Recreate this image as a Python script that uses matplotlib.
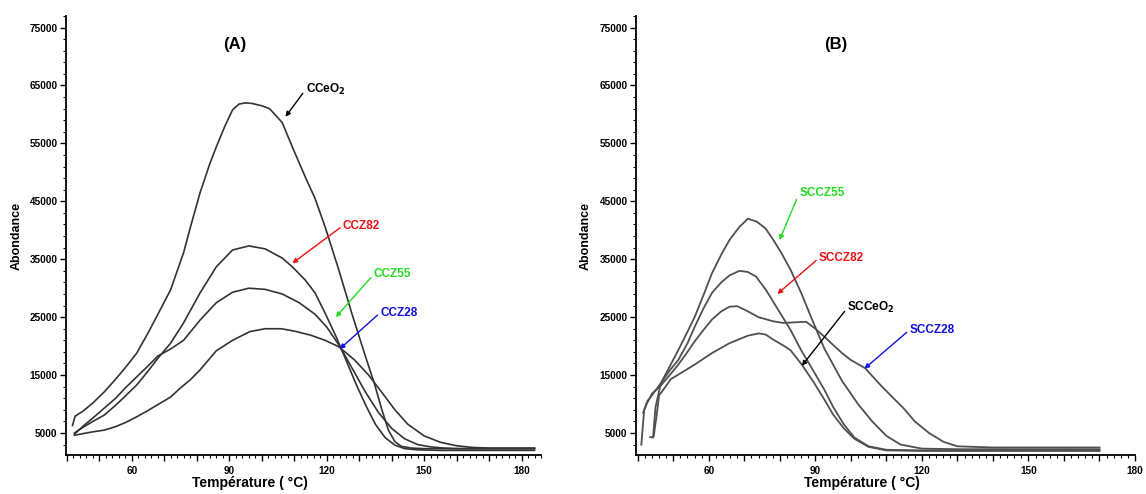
import numpy as np
import matplotlib
matplotlib.use("Agg")
import matplotlib.pyplot as plt
from matplotlib.ticker import MultipleLocator, FuncFormatter, FixedLocator

plt.rcParams['font.family'] = ['Liberation Sans', 'DejaVu Sans']

# ---------------- Panel A data ----------------
CCeO2_T = [41.7, 42.5, 45, 48, 51.5, 55, 58, 61.5, 65, 68, 71.9, 75.9, 78, 81, 84, 86, 88.5,
           91, 93, 95, 97, 100, 102.4, 106.3, 109.4, 113.4, 116.4, 119.5, 123.7, 127.7,
           131.6, 134.7, 137, 139, 141, 143, 146, 150, 160, 170, 184]
CCeO2_V = [6300, 7900, 8800, 10200, 12100, 14300, 16300, 18800, 22300, 25500, 29700, 36100,
           40500, 46500, 51500, 54400, 57800, 60800, 61800, 62000, 61900, 61500, 61000, 58600,
           54400, 49200, 45500, 40600, 33200, 25700, 18800, 13500, 9000, 5500, 3500, 2700,
           2400, 2300, 2300, 2300, 2300]

CCZ82_T = [42.3, 45, 48, 51.5, 55, 58, 61.5, 65, 68, 71.9, 75.9, 81, 86, 91, 96, 101, 106.3,
           109.4, 113.4, 116.4, 119.5, 123, 126, 129, 132, 135, 138, 141, 144, 148, 155, 184]
CCZ82_V = [5000, 6000, 7000, 8100, 9800, 11400, 13300, 15700, 17900, 20500, 24000, 29200,
           33700, 36600, 37300, 36800, 35200, 33700, 31400, 29200, 25700, 21500, 17500, 13500,
           9800, 6500, 4200, 2900, 2300, 2100, 2000, 2000]

CCZ55_T = [42.3, 45, 48, 51.5, 55, 58, 61.5, 65, 68, 71.9, 75.9, 81, 86, 91, 96, 101, 106.3,
           111.5, 116.4, 120, 124, 128, 132, 136, 140, 144, 148, 152, 156, 160, 184]
CCZ55_V = [4800, 6200, 7600, 9300, 11000, 12800, 14700, 16600, 18300, 19500, 21000, 24500,
           27500, 29300, 30000, 29800, 29000, 27500, 25500, 23300, 20000, 16000, 12000, 8500,
           5800, 4000, 3000, 2600, 2400, 2300, 2300]

CCZ28_T = [42.3, 45, 48, 51.5, 55, 58, 61.5, 65, 68, 71.9, 75, 78, 81, 86, 91, 96.3, 101, 106,
           110, 115, 119.5, 123.7, 128.6, 132.9, 137, 141, 145, 150, 155, 160, 165, 170, 184]
CCZ28_V = [4600, 4900, 5200, 5500, 6100, 6800, 7800, 8900, 9900, 11200, 12800, 14200, 15900,
           19200, 21000, 22500, 23000, 23000, 22600, 21900, 21000, 19900, 17600, 15000, 12000,
           9000, 6500, 4500, 3400, 2800, 2500, 2400, 2400]

# ---------------- Panel B data ----------------
SCCeO2_T = [44.5, 45.3, 46, 47, 49.3, 52, 56, 60.9, 65.8, 71, 74, 76, 78.2, 81, 83, 86.2,
            89.7, 92.6, 95, 98, 101, 105, 110, 120, 130, 150, 170]
SCCeO2_V = [4500, 8000, 11500, 12300, 14300, 15300, 16800, 18800, 20500, 21800, 22200, 22000,
            21100, 20100, 19300, 16800, 13600, 10700, 8200, 5800, 4000, 2600, 2000, 1900,
            1900, 1900, 1900]

SCCZ55_T = [41, 41.8, 42.7, 44, 46.5, 49, 51.4, 54, 56, 58.5, 60.9, 63.5, 65.8, 68.5, 71,
            73.5, 76, 78.2, 80.5, 83, 86, 88.8, 92.6, 97.5, 102, 106, 110, 114, 120, 130,
            150, 170]
SCCZ55_V = [3000, 9000, 10500, 11500, 13600, 16500, 19300, 22500, 25000, 28800, 32600, 35800,
            38300, 40500, 42000, 41500, 40300, 38300, 36000, 33200, 29200, 25000, 19500,
            14000, 10000, 7000, 4500, 3000, 2300, 2200, 2200, 2200]

SCCZ82_T = [43.5, 44.3, 45, 46.5, 49, 51.4, 54, 56, 58.5, 60.9, 63.5, 65.8, 68.6, 71, 73.3,
            76.1, 79, 83, 86, 88.8, 92.6, 95, 98, 101, 105, 110, 120, 150, 170]
SCCZ82_V = [4300, 4200, 9500, 13600, 15800, 17600, 20500, 23300, 26500, 29200, 31000, 32200,
            33000, 32800, 32000, 29700, 26800, 22800, 19300, 16400, 12400, 9500, 6500, 4200,
            2700, 2100, 2000, 2000, 2000]

SCCZ28_T = [41.5, 42.5, 44, 46.5, 49, 51.4, 54, 56, 58.5, 60.9, 63.5, 65.8, 68, 71, 74, 78,
            81, 84, 87.4, 90, 92.6, 95, 97.5, 100, 104, 108, 112, 114.8, 118, 122, 126, 130,
            140, 150, 170]
SCCZ28_V = [8500, 10000, 11800, 13200, 15000, 16800, 19000, 20800, 22800, 24600, 26000, 26800,
            26900, 26000, 25000, 24300, 24000, 24100, 24200, 23000, 21600, 20200, 18800,
            17600, 16200, 13500, 11000, 9300, 7000, 5000, 3500, 2700, 2500, 2500, 2500]

y_major = [5000, 15000, 25000, 35000, 45000, 55000, 65000, 75000]
x_labels = [60, 90, 120, 150, 180]

LINE_A = '#333333'
LINE_B = '#505050'

fig = plt.figure(figsize=(11.46, 4.94), dpi=100)
axA = fig.add_axes([66/1146, 1-455/494, 475/1146, 439/494])
axB = fig.add_axes([636/1146, 1-455/494, 499/1146, 439/494])


def style(ax, xlim):
    ax.set_xlim(*xlim)
    ax.set_ylim(1200, 77000)
    for s in ('top', 'right'):
        ax.spines[s].set_visible(False)
    for s in ('left', 'bottom'):
        ax.spines[s].set_linewidth(1.3)
    ax.yaxis.set_major_locator(FixedLocator(y_major))
    ax.yaxis.set_minor_locator(FixedLocator(np.arange(1000, 77001, 2000)))
    ax.xaxis.set_major_locator(MultipleLocator(10))
    ax.xaxis.set_minor_locator(MultipleLocator(2))
    ax.xaxis.set_major_formatter(FuncFormatter(
        lambda v, p: f"{int(round(v))}" if int(round(v)) in x_labels else ""))
    ax.tick_params(axis='both', which='major', direction='out', length=4, width=1,
                   labelsize=7.2, pad=2)
    ax.tick_params(axis='x', which='major', pad=4)
    ax.tick_params(axis='both', which='minor', direction='out', length=2, width=0.8)
    for lab in ax.get_xticklabels() + ax.get_yticklabels():
        lab.set_fontweight('bold')
    ax.set_ylabel('Abondance', fontsize=9, fontweight='bold')
    ax.set_xlabel('Température ( °C)', fontsize=10, fontweight='bold')


style(axA, (39.7, 186))
style(axB, (39.5, 180))
axA.xaxis.set_label_coords((250-66)/475, -0.048)
axB.xaxis.set_label_coords((862-636)/499, -0.048)
axA.yaxis.set_label_coords(-0.092, 0.5)
axB.yaxis.set_label_coords(-0.088, 0.5)

for T, V in [(CCeO2_T, CCeO2_V), (CCZ82_T, CCZ82_V), (CCZ55_T, CCZ55_V), (CCZ28_T, CCZ28_V)]:
    axA.plot(T, V, color=LINE_A, lw=1.2)
for T, V in [(SCCeO2_T, SCCeO2_V), (SCCZ55_T, SCCZ55_V), (SCCZ82_T, SCCZ82_V), (SCCZ28_T, SCCZ28_V)]:
    axB.plot(T, V, color=LINE_B, lw=1.3)

axA.text(0.356, 0.934, '(A)', transform=axA.transAxes, ha='center', va='center',
         fontsize=12, fontweight='bold')
axB.text(0.40, 0.934, '(B)', transform=axB.transAxes, ha='center', va='center',
         fontsize=12, fontweight='bold')


def label(ax, text, color, xytext, xy):
    ax.annotate(text, xy=xy, xytext=xytext, color=color, fontsize=8.5, fontweight='bold',
                ha='left', va='center',
                arrowprops=dict(arrowstyle='-|>', color=color, lw=1.0,
                                mutation_scale=7, shrinkA=0, shrinkB=0,
                                relpos=(0, 0.5)))


label(axA, 'CCeO$_\\mathbf{2}$', 'black', (113.5, 64300), (107.3, 59600))
label(axA, 'CCZ82', '#ee1111', (125.0, 40800), (109.4, 34300))
label(axA, 'CCZ55', '#22dd22', (134.5, 32400), (122.8, 25000))
label(axA, 'CCZ28', '#1111dd', (136.5, 25800), (124.0, 19500))

label(axB, 'SCCZ55', '#22dd22', (85.5, 46500), (79.9, 38300))
label(axB, 'SCCZ82', '#ee1111', (91.0, 35200), (79.3, 29000))
label(axB, 'SCCeO$_\\mathbf{2}$', 'black', (99.0, 26600), (86.2, 16600))
label(axB, 'SCCZ28', '#1111dd', (116.5, 22800), (103.8, 16100))

fig.savefig('out.png', dpi=100)
